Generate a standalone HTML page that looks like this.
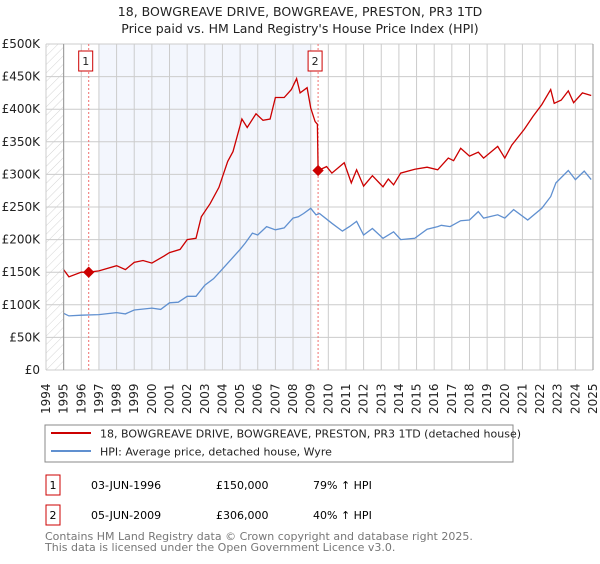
<!DOCTYPE html>
<html><head><meta charset="utf-8"><style>
body{margin:0;background:#fff;width:600px;height:560px;overflow:hidden;font-family:"DejaVu Sans","Liberation Sans",sans-serif}
svg text{font-family:"DejaVu Sans","Liberation Sans",sans-serif}
</style></head><body>
<svg id="c" width="600" height="560">
<defs><pattern id="hatch" width="6" height="6" patternUnits="userSpaceOnUse" patternTransform="rotate(45)"><line x1="0" y1="0" x2="0" y2="6" stroke="#d4d4d4" stroke-width="1"/></pattern></defs>
<text x="300" y="16" text-anchor="middle" font-size="12.5" fill="#222">18, BOWGREAVE DRIVE, BOWGREAVE, PRESTON, PR3 1TD</text>
<text x="300" y="33" text-anchor="middle" font-size="12.5" fill="#222">Price paid vs. HM Land Registry's House Price Index (HPI)</text>
<g id="grid"></g><g id="marks"></g><g id="axes"></g>
<rect x="45" y="425" width="468" height="37" fill="#fff" stroke="#888"/>
<line x1="51" y1="433" x2="91" y2="433" stroke="#cc0000" stroke-width="2"/>
<text x="100" y="437.5" font-size="11" fill="#222">18, BOWGREAVE DRIVE, BOWGREAVE, PRESTON, PR3 1TD (detached house)</text>
<line x1="51" y1="451" x2="91" y2="451" stroke="#6090d0" stroke-width="2"/>
<text x="100" y="455.5" font-size="11" fill="#222">HPI: Average price, detached house, Wyre</text>
<g>
<rect x="46" y="475" width="14" height="20" fill="#fff" stroke="#cc0000"/><text x="53" y="489" text-anchor="middle" font-size="11">1</text>
<text x="91" y="489" font-size="11">03-JUN-1996</text><text x="216" y="489" font-size="11">£150,000</text><text x="313" y="489" font-size="11">79% ↑ HPI</text></g>
<g>
<rect x="46" y="505" width="14" height="20" fill="#fff" stroke="#cc0000"/><text x="53" y="519" text-anchor="middle" font-size="11">2</text>
<text x="91" y="519" font-size="11">05-JUN-2009</text><text x="216" y="519" font-size="11">£306,000</text><text x="313" y="519" font-size="11">40% ↑ HPI</text></g>
<text x="45" y="540" font-size="11" fill="#777">Contains HM Land Registry data © Crown copyright and database right 2025.</text>
<text x="45" y="551" font-size="11" fill="#777">This data is licensed under the Open Government Licence v3.0.</text>
</svg>
<script>
const yTicks=[0,50,100,150,200,250,300,350,400,450,500];
const yTickLabels=["£0","£50K","£100K","£150K","£200K","£250K","£300K","£350K","£400K","£450K","£500K"];
const years=[1994,1995,1996,1997,1998,1999,2000,2001,2002,2003,2004,2005,2006,2007,2008,2009,2010,2011,2012,2013,2014,2015,2016,2017,2018,2019,2020,2021,2022,2023,2024,2025];
const hpiX=[1995,1995.3,1996,1997,1998,1998.5,1999,2000,2000.5,2001,2001.5,2002,2002.5,2003,2003.5,2004,2004.5,2005,2005.3,2005.7,2006,2006.5,2007,2007.5,2008,2008.3,2008.6,2009,2009.3,2009.5,2010.2,2010.8,2011.2,2011.6,2012,2012.5,2013.1,2013.7,2014.1,2014.9,2015.6,2016.2,2016.4,2016.9,2017.5,2018,2018.5,2018.8,2019.6,2020,2020.5,2021.3,2022.1,2022.6,2022.9,2023.6,2024,2024.5,2024.9];
const hpiY=[87,83,84,85,88,86,92,95,93,103,104,113,113,130,140,155,170,185,195,210,207,220,215,218,233,235,240,248,238,240,225,213,220,228,207,217,202,212,200,202,216,220,222,220,229,230,243,233,238,233,246,230,248,266,287,306,292,305,292,303,300];
const redX=[1995,1995.3,1996,1996.42,1997,1998,1998.5,1999,1999.5,2000,2000.7,2001,2001.6,2002,2002.5,2002.8,2003.3,2003.8,2004.3,2004.6,2005.1,2005.4,2005.9,2006.3,2006.7,2007,2007.5,2007.9,2008.2,2008.4,2008.8,2009.0,2009.25,2009.38,2009.42,2009.9,2010.2,2010.9,2011.3,2011.6,2012,2012.5,2013.1,2013.4,2013.7,2014.1,2014.9,2015.6,2016.2,2016.8,2017.1,2017.5,2018,2018.5,2018.8,2019.6,2020,2020.4,2021.1,2021.6,2022.1,2022.6,2022.8,2023.2,2023.6,2023.9,2024.4,2024.9];
const redY=[154,143,150,150,152,160,154,165,168,164,175,180,185,200,202,235,255,280,320,335,385,372,393,383,385,418,418,430,447,425,433,402,381,377,306,312,302,318,287,307,282,298,281,293,284,302,308,311,307,325,321,340,328,334,325,343,325,345,369,389,407,430,409,414,428,410,425,421];
const sales=[[1996.42,150],[2009.42,306]];
const L=46,R=593,T=44,B=370;
const X=y=>L+(y-1994)*(R-L)/31, Y=v=>B-v*(B-T)/500;
const ns="http://www.w3.org/2000/svg";
function mk(p,t,a){const e=document.createElementNS(ns,t);for(const k in a)e.setAttribute(k,a[k]);p.appendChild(e);return e;}
const g=document.getElementById('grid'),m=document.getElementById('marks'),ax=document.getElementById('axes');
const hatch=mk(g,'rect',{x:L,y:T,width:X(1995)-L,height:B-T,fill:'url(#hatch)'});


const sh=mk(g,'rect',{x:X(1997),y:T,width:X(2009.1)-X(1997),height:B-T,fill:'#f3f6fd'});


yTicks.forEach((v,i)=>{
 const l=mk(g,'line',{x1:L,x2:R,y1:Y(v),y2:Y(v),stroke:'#ccc'});
 
 
 const t=mk(ax,'text',{x:L-6,y:Y(v)+4,'text-anchor':'end','font-size':12,fill:'#222'});t.textContent=yTickLabels[i];
 
 
});
years.forEach(yr=>{
 const l=mk(g,'line',{x1:X(yr),x2:X(yr),y1:T,y2:B,stroke:'#ccc'});
 
 
 const t=mk(ax,'text',{x:0,y:0,'font-size':12,fill:'#222',transform:`translate(${X(yr)+4},${B+44}) rotate(-90)`});t.textContent=yr;
 
 
});
const ay=mk(ax,'line',{x1:X(1995),x2:X(1995),y1:T,y2:B,stroke:'#999'});


const ar=mk(ax,'line',{x1:R,x2:R,y1:T,y2:B,stroke:'#999'});


sales.forEach((s,i)=>{
 const l=mk(m,'line',{x1:X(s[0]),x2:X(s[0]),y1:T,y2:B,stroke:'#f07070','stroke-dasharray':'2,2'});
 
 
 const bx=mk(m,'rect',{x:X(s[0])-10,y:T+7,width:14,height:20,fill:'#fff',stroke:'#cc0000'});
 
 
 const t=mk(m,'text',{x:X(s[0])-3,y:T+21,'text-anchor':'middle','font-size':11,fill:'#222'});t.textContent=i+1;
 
 
});
const hp=mk(m,'path',{d:hpiX.map((x,i)=>(i?'L':'M')+X(x).toFixed(1)+','+Y(hpiY[i]).toFixed(1)).join(''),fill:'none',stroke:'#6090d0','stroke-width':1.3});


const rp=mk(m,'path',{d:redX.map((x,i)=>(i?'L':'M')+X(x).toFixed(1)+','+Y(redY[i]).toFixed(1)).join(''),fill:'none',stroke:'#cc0000','stroke-width':1.3});


sales.forEach(s=>{
 const d=mk(m,'rect',{x:X(s[0])-4,y:Y(s[1])-4,width:8,height:8,fill:'#cc0000',transform:`rotate(45 ${X(s[0])} ${Y(s[1])})`});
 
 
});
</script>
</body></html>
